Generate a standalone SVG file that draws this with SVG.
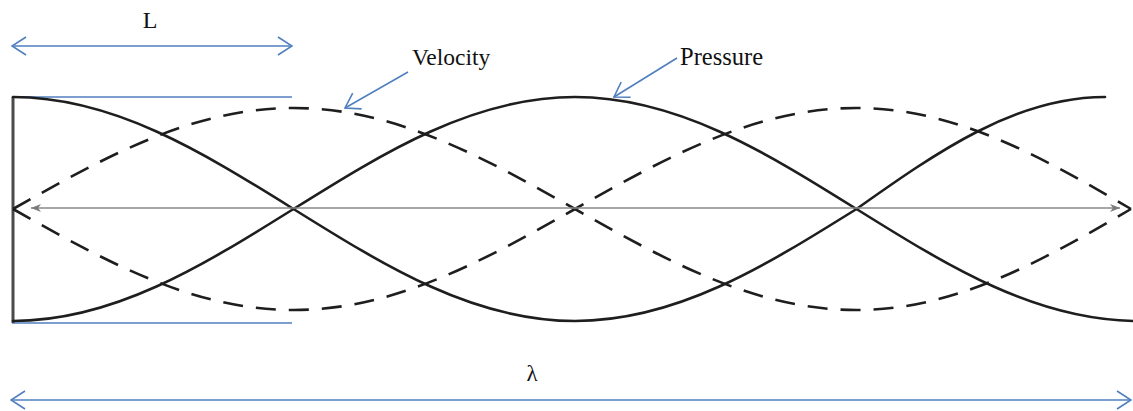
<svg xmlns="http://www.w3.org/2000/svg" width="1133" height="411" viewBox="0 0 1133 411">
<style>
.blue{stroke:#4f7fbf;stroke-width:1.6;fill:none}
.solid{stroke:#1e1e1e;stroke-width:2.6;fill:none;stroke-linecap:round}
.dash{stroke:#1e1e1e;stroke-width:2.6;fill:none;stroke-dasharray:20 13}
.axis{stroke:#8a8a8a;stroke-width:1.6;fill:none}
.lbl{font-family:"Liberation Serif","Times New Roman",serif;fill:#111}
</style>
<defs>
<marker id="openBlue" viewBox="0 0 16 20" refX="15" refY="10" markerWidth="16" markerHeight="20" markerUnits="userSpaceOnUse" orient="auto-start-reverse">
<path d="M1,1 L15,10 L1,19" fill="none" stroke="#4f7fbf" stroke-width="1.6"/>
</marker>
<marker id="axisHead" viewBox="0 0 10 8" refX="10" refY="4" markerWidth="10" markerHeight="8" markerUnits="userSpaceOnUse" orient="auto-start-reverse">
<path d="M0,0 L10,4 L0,8 L3,4 Z" fill="#7a7a7a"/>
</marker>
</defs>
<rect width="1133" height="411" fill="#ffffff"/>

<g id="tube">
<line x1="12" y1="97" x2="292" y2="97" class="blue"/>
<line x1="12" y1="323" x2="292" y2="323" class="blue"/>
<line x1="13" y1="97" x2="13" y2="323" stroke="#4a4a4a" stroke-width="3"/>
</g>

<g id="pressure">
<path class="solid" d="M13,97 C113.5,97 201.6,151.6 293.5,209 C385.4,266.4 473.5,321 575,321 C676.5,321 764.6,266.4 856.5,209 C937.6,151.6 1015.4,97 1105,97"/>
<path class="solid" d="M13,321 C113.5,321 201.6,266.4 293.5,209 C385.4,151.6 473.5,97 575,97 C676.5,97 764.6,151.6 856.5,209 C948.4,266.4 1036.5,321 1138,321"/>
</g>

<g id="velocity">
<path class="dash" d="M13,209 C104.9,157.2 192,108 293.5,108 C395,108 483.1,157.2 575,209 C666.9,260.8 755,310 856.5,310 C956,310 1042,260.8 1131,209"/>
<path class="dash" d="M13,209 C104.9,260.8 192,310 293.5,310 C395,310 483.1,260.8 575,209 C666.9,157.2 755,108 856.5,108 C956,108 1042,157.2 1131,209"/>
</g>

<g id="connectors">
<line x1="31" y1="208" x2="1120" y2="208" class="axis" marker-start="url(#axisHead)" marker-end="url(#axisHead)"/>
<line x1="12" y1="46" x2="292" y2="46" class="blue" marker-start="url(#openBlue)" marker-end="url(#openBlue)"/>
<line x1="11" y1="400" x2="1131" y2="400" class="blue" stroke-width="2.2" marker-start="url(#openBlue)" marker-end="url(#openBlue)"/>
<line x1="408" y1="72" x2="345" y2="108" class="blue" marker-end="url(#openBlue)"/>
<line x1="677" y1="58" x2="614" y2="97" class="blue" marker-end="url(#openBlue)"/>
</g>

<g id="labels">
<text class="lbl" x="150" y="28" font-size="24" text-anchor="middle">L</text>
<text class="lbl" x="412" y="65" font-size="23.5">Velocity</text>
<text class="lbl" x="680" y="65" font-size="24.5">Pressure</text>
<text class="lbl" x="532" y="381" font-size="23" text-anchor="middle">λ</text>
</g>
</svg>
